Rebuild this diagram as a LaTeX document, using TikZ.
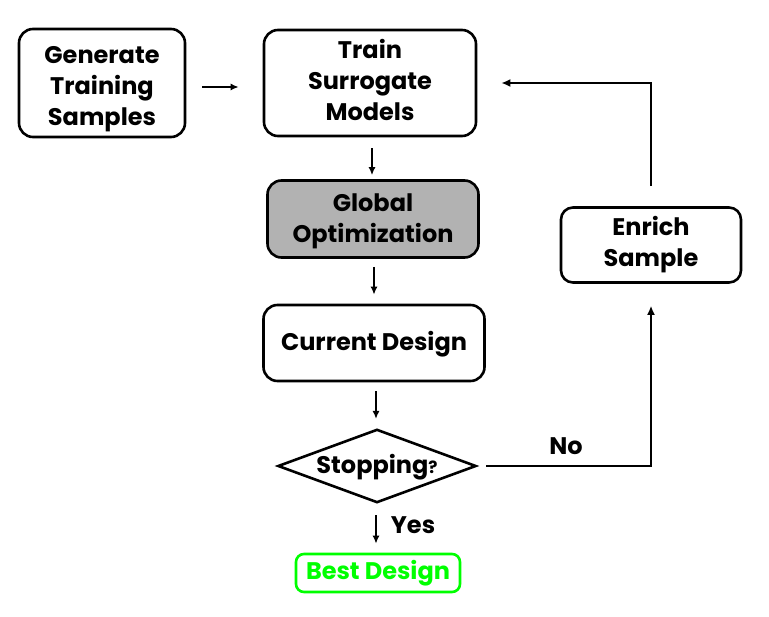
\documentclass[tikz,border=0pt]{standalone}
\usepackage{fontspec}
\setmainfont{Poppins}
\usetikzlibrary{arrows.meta,shapes.geometric}
\begin{document}
\begin{tikzpicture}[x=1pt,y=-1pt,
  txt/.style={font=\bfseries\fontsize{24}{31}\selectfont, align=center},
  box/.style={txt, draw, line width=2.6pt, rounded corners=14pt, inner sep=0pt},
  arr/.style={line width=2.2pt, -{Latex[length=8pt,width=7pt]}},
  conn/.style={line width=2.8pt, -{Latex[length=9pt,width=8pt]}}]
\useasboundingbox (0,0) rectangle (769,617);
\node[box, minimum width=166pt, minimum height=108pt] (gen) at (102,83) {\rule{0pt}{30pt}Generate\\Training\\Samples};
\node[box, minimum width=212pt, minimum height=106pt] (train) at (370,83) {Train\\Surrogate\\Models\rule[-7pt]{0pt}{1pt}};
\node[box, fill=black!30, minimum width=211pt, minimum height=77pt] (glob) at (373,219) {\rule{0pt}{22pt}Global\\Optimization};
\node[box, minimum width=221pt, minimum height=76pt] (cur) at (374,343) {\rule{0pt}{22pt}Current Design};
\node[txt, draw, diamond, line width=2.6pt, minimum width=194pt, minimum height=72pt, inner sep=0pt, aspect=2.7] (stop) at (377,466) {\rule{0pt}{22pt}Stopping{\fontsize{17}{17}\selectfont ?}};
\node[box, minimum width=180pt, minimum height=75pt, rounded corners=12pt] (enr) at (651,245) {Enrich\\Sample};
\node[box, draw={rgb,255:red,0;green,255;blue,0}, text={rgb,255:red,0;green,255;blue,0}, minimum width=164pt, minimum height=38pt, rounded corners=8pt] (best) at (378,573) {Best Design};
\node[txt] (no) at (566,446) {No};
\node[txt] (yes) at (413,525) {Yes};
\draw[arr, shorten <=16pt, shorten >=24pt] (gen.east |- 0,87) -- (train.west |- 0,87);
\draw[arr, shorten <=11pt, shorten >=4pt] (train.south -| 372,0) -- (glob.north -| 372,0);
\draw[arr, shorten <=8pt, shorten >=9pt] (glob.south -| 374,0) -- (cur.north -| 374,0);
\draw[arr, shorten <=9pt, shorten >=9pt] (cur.south -| 376,0) -- (stop.north -| 376,0);
\draw[arr, shorten <=11pt, shorten >=9pt] (stop.south -| 376,0) -- (best.north -| 376,0);
\draw[conn, shorten <=9pt, shorten >=22pt] (stop.east) -- (enr.south |- stop.east) -- (enr.south);
\draw[conn, shorten <=20pt, shorten >=24pt] (enr.north) -- (enr.north |- train.east) -- (train.east);
\end{tikzpicture}
\end{document}
